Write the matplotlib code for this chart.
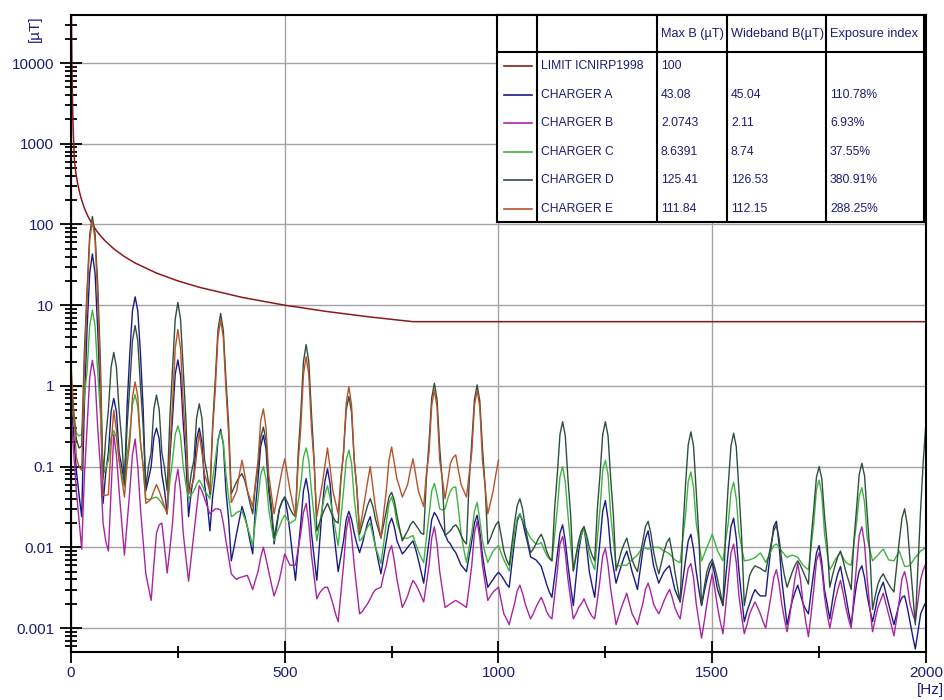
import numpy as np
import matplotlib
matplotlib.use('Agg')
import matplotlib.pyplot as plt
from matplotlib.ticker import FixedLocator, FuncFormatter, LogLocator, NullFormatter, MultipleLocator
from matplotlib.patches import Rectangle

plt.rcParams['font.family'] = ['Liberation Sans', 'DejaVu Sans']

# spectrum bins, 6.25 Hz apart
freq = np.arange(0, 2000.1, 6.25)

# ICNIRP 1998 general public reference level for B [uT]
limit_f = [1, 1.5, 2, 3, 4, 5, 6, 8, 10, 12, 15, 20, 25, 30, 35, 40, 50, 60, 70, 80,
           100, 125, 150, 200, 250, 300, 400, 500, 600, 700, 800, 2000]
limit_b = [40000, 17778, 10000, 4444, 2500, 1600, 1111, 625, 500, 416.7, 333.3, 250, 200,
           166.7, 142.9, 125, 100, 83.33, 71.43, 62.5, 50, 40, 33.33, 25, 20, 16.67, 12.5,
           10, 8.333, 7.143, 6.25, 6.25]

# one row per 100 Hz
charger_a = [
    0.6, 0.25, 0.09, 0.045, 0.024, 0.59, 5, 25, 43.08, 25, 5, 0.69, 0.035, 0.084, 0.15, 0.48,
    0.7, 0.48, 0.15, 0.1, 0.06, 0.56, 2.5, 8.5, 12.7, 8.5, 2.5, 0.52, 0.05, 0.07, 0.1, 0.23,
    0.3, 0.22, 0.08, 0.051, 0.026, 0.13, 0.4, 1.4, 2.1, 1.34, 0.35, 0.12, 0.024, 0.049, 0.08, 0.22,
    0.3, 0.2, 0.06, 0.035, 0.016, 0.042, 0.08, 0.21, 0.29, 0.19, 0.05, 0.022, 0.0068, 0.01, 0.015, 0.022,
    0.032, 0.025, 0.018, 0.012, 0.0083, 0.03, 0.07, 0.18, 0.245, 0.165, 0.05, 0.027, 0.011, 0.018, 0.03, 0.037,
    0.042, 0.027, 0.015, 0.0075, 0.0039, 0.009, 0.02, 0.05, 0.071, 0.045, 0.015, 0.0075, 0.0039, 0.011, 0.03, 0.065,
    0.094, 0.06, 0.02, 0.01, 0.005, 0.0078, 0.012, 0.022, 0.028, 0.022, 0.015, 0.011, 0.0086, 0.011, 0.015, 0.02,
    0.024, 0.016, 0.01, 0.0068, 0.0047, 0.0075, 0.012, 0.019, 0.023, 0.018, 0.012, 0.01, 0.0083, 0.009, 0.01, 0.011,
    0.012, 0.0095, 0.007, 0.005, 0.0036, 0.0065, 0.012, 0.022, 0.027, 0.024, 0.02, 0.017, 0.0145, 0.012, 0.011, 0.0095,
    0.0086, 0.0072, 0.006, 0.0055, 0.005, 0.0078, 0.012, 0.02, 0.025, 0.016, 0.008, 0.0048, 0.0032, 0.0036, 0.004, 0.0045,
    0.0049, 0.0045, 0.004, 0.0035, 0.0032, 0.0062, 0.012, 0.021, 0.026, 0.021, 0.015, 0.011, 0.0076, 0.0073, 0.007, 0.0064,
    0.0058, 0.0045, 0.0035, 0.0028, 0.0024, 0.0043, 0.008, 0.015, 0.019, 0.012, 0.006, 0.0033, 0.0019, 0.0042, 0.009, 0.014,
    0.018, 0.01, 0.005, 0.0034, 0.0024, 0.0055, 0.012, 0.028, 0.038, 0.022, 0.009, 0.0056, 0.0036, 0.0047, 0.006, 0.0075,
    0.009, 0.0068, 0.005, 0.0039, 0.003, 0.0052, 0.009, 0.013, 0.016, 0.01, 0.006, 0.0046, 0.0036, 0.0043, 0.005, 0.0055,
    0.0059, 0.0042, 0.003, 0.0025, 0.0021, 0.0039, 0.007, 0.012, 0.0145, 0.0095, 0.005, 0.003, 0.0019, 0.0028, 0.004, 0.0053,
    0.0065, 0.0045, 0.003, 0.0024, 0.0019, 0.0042, 0.009, 0.018, 0.023, 0.013, 0.005, 0.0024, 0.0012, 0.0016, 0.002, 0.0025,
    0.003, 0.0027, 0.0025, 0.0025, 0.0025, 0.0052, 0.01, 0.018, 0.021, 0.011, 0.004, 0.0021, 0.0011, 0.0016, 0.0022, 0.0028,
    0.0034, 0.0026, 0.002, 0.0017, 0.0015, 0.0028, 0.005, 0.0085, 0.0105, 0.0065, 0.003, 0.002, 0.0013, 0.0022, 0.0035, 0.0047,
    0.0058, 0.0038, 0.0025, 0.0016, 0.0011, 0.002, 0.0035, 0.0051, 0.0059, 0.0042, 0.0025, 0.0017, 0.0012, 0.0017, 0.0025, 0.0031,
    0.0037, 0.0027, 0.002, 0.0015, 0.0011, 0.0015, 0.002, 0.0024, 0.0025, 0.0018, 0.0012, 0.0008, 0.00055, 0.0009, 0.0015, 0.0018,
    0.0021]

charger_b = [
    0.5, 0.15, 0.05, 0.022, 0.0095, 0.075, 0.3, 1.28, 2.0743, 1.28, 0.3, 0.1, 0.02, 0.012, 0.009, 0.05,
    0.25, 0.14, 0.05, 0.02, 0.008, 0.02, 0.05, 0.14, 0.22, 0.1, 0.03, 0.012, 0.0047, 0.0032, 0.0022, 0.006,
    0.015, 0.019, 0.02, 0.01, 0.0048, 0.0095, 0.02, 0.06, 0.093, 0.05, 0.015, 0.0075, 0.0038, 0.0075, 0.015, 0.03,
    0.058, 0.05, 0.04, 0.032, 0.026, 0.028, 0.03, 0.03, 0.029, 0.02, 0.012, 0.0075, 0.0047, 0.0043, 0.004, 0.0042,
    0.0043, 0.0044, 0.0045, 0.0037, 0.003, 0.0039, 0.005, 0.0075, 0.01, 0.0072, 0.005, 0.0035, 0.0025, 0.0031, 0.004, 0.0058,
    0.0083, 0.007, 0.006, 0.006, 0.006, 0.0095, 0.015, 0.027, 0.035, 0.02, 0.008, 0.0043, 0.0023, 0.0027, 0.003, 0.0032,
    0.0032, 0.0026, 0.002, 0.0015, 0.0012, 0.0027, 0.006, 0.016, 0.024, 0.014, 0.006, 0.003, 0.0015, 0.0016, 0.0018, 0.002,
    0.0023, 0.0027, 0.003, 0.0031, 0.0032, 0.0045, 0.006, 0.0088, 0.0105, 0.0068, 0.004, 0.0027, 0.0018, 0.0021, 0.0025, 0.0032,
    0.0039, 0.0035, 0.003, 0.0025, 0.0021, 0.0035, 0.006, 0.013, 0.018, 0.011, 0.005, 0.003, 0.0018, 0.0019, 0.002, 0.0021,
    0.0022, 0.0021, 0.002, 0.0019, 0.0018, 0.0032, 0.006, 0.015, 0.021, 0.013, 0.006, 0.0036, 0.0022, 0.0025, 0.0028, 0.003,
    0.0032, 0.0022, 0.0015, 0.0013, 0.0011, 0.0015, 0.002, 0.0029, 0.0034, 0.0027, 0.002, 0.0016, 0.0013, 0.0015, 0.0018, 0.0021,
    0.0024, 0.002, 0.0016, 0.0014, 0.0013, 0.0025, 0.005, 0.011, 0.0137, 0.0085, 0.004, 0.0023, 0.0013, 0.0015, 0.0018, 0.002,
    0.0023, 0.0019, 0.0016, 0.0014, 0.0013, 0.0022, 0.004, 0.0078, 0.0097, 0.006, 0.003, 0.0018, 0.0011, 0.0014, 0.0018, 0.0022,
    0.0027, 0.002, 0.0015, 0.0013, 0.0011, 0.0015, 0.002, 0.003, 0.0036, 0.0028, 0.002, 0.0017, 0.0015, 0.0018, 0.0022, 0.0026,
    0.003, 0.0024, 0.0018, 0.0015, 0.0013, 0.0022, 0.0035, 0.0055, 0.0063, 0.0042, 0.002, 0.0012, 0.00075, 0.0012, 0.002, 0.0032,
    0.0047, 0.003, 0.0018, 0.0012, 0.00085, 0.0018, 0.004, 0.0085, 0.011, 0.0065, 0.0025, 0.0014, 0.00085, 0.0011, 0.0015, 0.0018,
    0.0021, 0.0018, 0.0015, 0.0012, 0.001, 0.0016, 0.0025, 0.0042, 0.0053, 0.0036, 0.002, 0.0013, 0.0009, 0.0014, 0.0025, 0.0042,
    0.0063, 0.004, 0.002, 0.0012, 0.00078, 0.0015, 0.003, 0.0068, 0.0086, 0.0055, 0.0025, 0.0015, 0.001, 0.0015, 0.0022, 0.003,
    0.0039, 0.0027, 0.0018, 0.0013, 0.001, 0.0025, 0.006, 0.014, 0.018, 0.011, 0.004, 0.0018, 0.0009, 0.0013, 0.0018, 0.0022,
    0.0027, 0.002, 0.0015, 0.0011, 0.0008, 0.0013, 0.0022, 0.0041, 0.005, 0.0035, 0.002, 0.0015, 0.0012, 0.0022, 0.004, 0.0053,
    0.0063]

charger_c = [
    1.2, 0.5, 0.26, 0.24, 0.25, 0.73, 1.5, 5.6, 8.6391, 5.6, 1.5, 0.46, 0.08, 0.095, 0.12, 0.23,
    0.28, 0.23, 0.12, 0.08, 0.056, 0.14, 0.25, 0.59, 0.78, 0.55, 0.2, 0.105, 0.04, 0.039, 0.04, 0.041,
    0.042, 0.039, 0.035, 0.031, 0.027, 0.066, 0.12, 0.25, 0.32, 0.24, 0.1, 0.06, 0.04, 0.045, 0.05, 0.06,
    0.068, 0.06, 0.05, 0.045, 0.04, 0.07, 0.12, 0.22, 0.27, 0.2, 0.08, 0.042, 0.024, 0.025, 0.027, 0.028,
    0.028, 0.023, 0.018, 0.014, 0.0105, 0.021, 0.04, 0.08, 0.1, 0.07, 0.03, 0.018, 0.012, 0.015, 0.018, 0.022,
    0.025, 0.022, 0.02, 0.021, 0.022, 0.036, 0.06, 0.13, 0.17, 0.12, 0.05, 0.024, 0.012, 0.019, 0.03, 0.045,
    0.058, 0.04, 0.025, 0.016, 0.0105, 0.023, 0.05, 0.12, 0.16, 0.11, 0.04, 0.021, 0.012, 0.013, 0.015, 0.018,
    0.02, 0.014, 0.01, 0.008, 0.0063, 0.011, 0.02, 0.035, 0.042, 0.032, 0.02, 0.016, 0.013, 0.013, 0.013, 0.0135,
    0.014, 0.011, 0.009, 0.0075, 0.0065, 0.013, 0.025, 0.05, 0.062, 0.045, 0.03, 0.029, 0.03, 0.04, 0.05, 0.055,
    0.056, 0.03, 0.015, 0.0095, 0.0065, 0.01, 0.015, 0.028, 0.036, 0.022, 0.012, 0.0085, 0.0065, 0.0077, 0.009, 0.0098,
    0.0105, 0.0085, 0.007, 0.006, 0.0051, 0.0085, 0.015, 0.023, 0.026, 0.022, 0.018, 0.015, 0.013, 0.012, 0.011, 0.011,
    0.0115, 0.0095, 0.008, 0.0072, 0.0068, 0.014, 0.03, 0.075, 0.1, 0.065, 0.025, 0.011, 0.0051, 0.0075, 0.011, 0.014,
    0.017, 0.012, 0.008, 0.0064, 0.0053, 0.013, 0.03, 0.09, 0.12, 0.08, 0.025, 0.012, 0.0058, 0.0059, 0.006, 0.006,
    0.006, 0.0065, 0.007, 0.0075, 0.008, 0.009, 0.01, 0.0098, 0.0095, 0.0098, 0.01, 0.01, 0.01, 0.0095, 0.009, 0.0087,
    0.0083, 0.0076, 0.007, 0.0067, 0.0065, 0.013, 0.025, 0.065, 0.086, 0.055, 0.02, 0.012, 0.0068, 0.0082, 0.01, 0.012,
    0.0145, 0.0115, 0.009, 0.0078, 0.0068, 0.012, 0.02, 0.048, 0.064, 0.04, 0.015, 0.01, 0.0068, 0.0069, 0.007, 0.0072,
    0.0075, 0.008, 0.0085, 0.0075, 0.0065, 0.0076, 0.009, 0.0105, 0.011, 0.01, 0.009, 0.0082, 0.0075, 0.0078, 0.008, 0.0078,
    0.0075, 0.0067, 0.006, 0.0056, 0.0053, 0.01, 0.02, 0.052, 0.068, 0.045, 0.015, 0.0085, 0.0053, 0.006, 0.007, 0.0078,
    0.0086, 0.0075, 0.0065, 0.0062, 0.006, 0.011, 0.02, 0.043, 0.055, 0.036, 0.013, 0.0093, 0.0068, 0.0074, 0.008, 0.0088,
    0.0095, 0.0082, 0.007, 0.0069, 0.0068, 0.0078, 0.009, 0.0072, 0.0058, 0.0058, 0.006, 0.0067, 0.0075, 0.0082, 0.009, 0.0095,
    0.01]

charger_d = [
    1.0, 0.4, 0.22, 0.17, 0.18, 2.6, 15, 74, 125.41, 77, 18, 2.0, 0.07, 0.23, 0.5, 1.7,
    2.6, 1.7, 0.5, 0.21, 0.06, 0.32, 1.0, 3.6, 5.6, 3.6, 1.0, 0.32, 0.056, 0.1, 0.15, 0.51,
    0.77, 0.51, 0.15, 0.097, 0.05, 0.4, 1.6, 6.7, 10.8, 6.7, 1.6, 0.39, 0.046, 0.082, 0.12, 0.4,
    0.6, 0.4, 0.12, 0.081, 0.045, 0.32, 1.2, 4.9, 7.9, 4.9, 1.2, 0.33, 0.046, 0.055, 0.065, 0.075,
    0.082, 0.068, 0.05, 0.035, 0.026, 0.058, 0.1, 0.23, 0.31, 0.21, 0.06, 0.033, 0.013, 0.02, 0.03, 0.037,
    0.042, 0.036, 0.03, 0.026, 0.024, 0.14, 0.45, 2.0, 3.24, 2.0, 0.45, 0.12, 0.016, 0.02, 0.025, 0.03,
    0.035, 0.029, 0.024, 0.021, 0.02, 0.067, 0.15, 0.5, 0.74, 0.47, 0.12, 0.052, 0.0145, 0.019, 0.025, 0.033,
    0.04, 0.032, 0.022, 0.017, 0.013, 0.019, 0.028, 0.042, 0.048, 0.038, 0.025, 0.017, 0.012, 0.014, 0.016, 0.019,
    0.021, 0.019, 0.017, 0.015, 0.0145, 0.07, 0.2, 0.71, 1.08, 0.68, 0.17, 0.063, 0.014, 0.015, 0.016, 0.018,
    0.019, 0.017, 0.014, 0.012, 0.011, 0.063, 0.2, 0.68, 1.03, 0.65, 0.17, 0.057, 0.011, 0.013, 0.016, 0.019,
    0.021, 0.014, 0.009, 0.007, 0.006, 0.011, 0.02, 0.033, 0.04, 0.03, 0.018, 0.012, 0.0086, 0.0095, 0.011, 0.013,
    0.0145, 0.012, 0.009, 0.0075, 0.0068, 0.03, 0.08, 0.25, 0.36, 0.24, 0.07, 0.025, 0.0051, 0.008, 0.012, 0.016,
    0.018, 0.014, 0.01, 0.008, 0.0068, 0.03, 0.08, 0.25, 0.36, 0.24, 0.07, 0.025, 0.0051, 0.0068, 0.009, 0.011,
    0.013, 0.0095, 0.007, 0.0058, 0.005, 0.0078, 0.012, 0.018, 0.021, 0.015, 0.009, 0.0062, 0.0047, 0.0065, 0.009, 0.0115,
    0.013, 0.0085, 0.005, 0.0032, 0.0021, 0.016, 0.06, 0.185, 0.27, 0.18, 0.05, 0.0135, 0.0019, 0.0032, 0.005, 0.0063,
    0.0071, 0.0055, 0.004, 0.0028, 0.0019, 0.016, 0.06, 0.18, 0.26, 0.175, 0.05, 0.0135, 0.0019, 0.003, 0.0045, 0.0053,
    0.0059, 0.0057, 0.0055, 0.0052, 0.005, 0.0075, 0.011, 0.016, 0.019, 0.013, 0.007, 0.0045, 0.0032, 0.004, 0.005, 0.006,
    0.0068, 0.006, 0.005, 0.0042, 0.0035, 0.0127, 0.03, 0.074, 0.1, 0.071, 0.025, 0.011, 0.0032, 0.0045, 0.006, 0.0077,
    0.009, 0.0068, 0.005, 0.0039, 0.003, 0.012, 0.03, 0.08, 0.11, 0.077, 0.025, 0.0085, 0.0017, 0.0025, 0.0035, 0.0042,
    0.0047, 0.004, 0.0035, 0.0031, 0.0028, 0.0058, 0.012, 0.023, 0.03, 0.019, 0.007, 0.0028, 0.0011, 0.006, 0.03, 0.12,
    0.36]

# charger E was only measured up to 1 kHz
charger_e = [
    1.8, 0.5, 0.13, 0.1, 0.09, 1.7, 12, 64, 111.84, 64, 12, 1.27, 0.044, 0.044, 0.045, 0.18,
    0.5, 0.28, 0.12, 0.07, 0.042, 0.107, 0.2, 0.73, 1.12, 0.73, 0.2, 0.1, 0.035, 0.037, 0.04, 0.05,
    0.06, 0.05, 0.04, 0.032, 0.026, 0.17, 0.6, 2.9, 5.0, 2.9, 0.6, 0.21, 0.046, 0.056, 0.07, 0.14,
    0.26, 0.15, 0.08, 0.063, 0.05, 0.28, 0.9, 4.0, 6.6, 4.0, 0.9, 0.25, 0.036, 0.042, 0.05, 0.08,
    0.12, 0.08, 0.05, 0.04, 0.032, 0.062, 0.12, 0.37, 0.52, 0.3, 0.08, 0.046, 0.026, 0.04, 0.06, 0.09,
    0.125, 0.08, 0.05, 0.035, 0.024, 0.11, 0.3, 1.38, 2.3, 1.38, 0.3, 0.11, 0.024, 0.038, 0.06, 0.1,
    0.17, 0.095, 0.05, 0.036, 0.026, 0.074, 0.15, 0.61, 0.98, 0.58, 0.12, 0.054, 0.016, 0.025, 0.04, 0.065,
    0.1, 0.055, 0.03, 0.02, 0.013, 0.026, 0.05, 0.12, 0.175, 0.11, 0.07, 0.055, 0.042, 0.05, 0.06, 0.09,
    0.125, 0.08, 0.05, 0.04, 0.032, 0.081, 0.15, 0.57, 0.89, 0.54, 0.12, 0.07, 0.04, 0.065, 0.11, 0.13,
    0.14, 0.09, 0.06, 0.05, 0.042, 0.08, 0.15, 0.57, 0.89, 0.54, 0.12, 0.055, 0.026, 0.036, 0.05, 0.08,
    0.12]

names = ['LIMIT ICNIRP1998', 'CHARGER A', 'CHARGER B', 'CHARGER C', 'CHARGER D', 'CHARGER E']
max_b = ['100', '43.08', '2.0743', '8.6391', '125.41', '111.84']
wideband_b = ['', '45.04', '2.11', '8.74', '126.53', '112.15']
exposure = ['', '110.78%', '6.93%', '37.55%', '380.91%', '288.25%']
headers = ['Max B (\u00b5T)', 'Wideband B(\u00b5T)', 'Exposure index']

colors = ['#8b1a1a', '#1a1a85', '#a8259f', '#3fb33f', '#2f4f3c', '#b5532a']
txt_color = '#1c1c78'

fig = plt.figure(figsize=(9.45, 7.0), dpi=100)
ax = fig.add_axes([71 / 945, 48 / 700, 855 / 945, 637 / 700])

ax.plot(limit_f, limit_b, color=colors[0], lw=1.1, zorder=3)
series = [charger_a, charger_b, charger_c, charger_d]
for vals, c in zip(series, colors[1:5]):
    ax.plot(freq, vals, color=c, lw=1.0, zorder=3)
ax.plot(freq[:len(charger_e)], charger_e, color=colors[5], lw=1.0, zorder=3)

ax.set_yscale('log')
ax.set_xlim(0, 2000)
ax.set_ylim(5.05e-4, 3.94e4)
ax.yaxis.set_major_locator(FixedLocator([1e-3, 1e-2, 1e-1, 1, 10, 100, 1000, 10000]))
ax.yaxis.set_major_formatter(FuncFormatter(lambda v, p: '%g' % v))
ax.yaxis.set_minor_locator(LogLocator(base=10, subs=range(2, 10), numticks=30))
ax.yaxis.set_minor_formatter(NullFormatter())
ax.xaxis.set_major_locator(MultipleLocator(500))
ax.xaxis.set_minor_locator(MultipleLocator(250))

ax.grid(which='major', color='#a3a3a3', lw=1.0, zorder=1)
ax.tick_params(which='major', direction='inout', length=16, width=1.3,
               colors='black', labelcolor=txt_color, labelsize=11)
ax.tick_params(which='minor', direction='inout', length=9, width=1.3)
ax.tick_params(axis='x', which='major', pad=2)
ax.tick_params(axis='y', which='major', pad=4)
for s in ax.spines.values():
    s.set_linewidth(1.5)
    s.set_zorder(4)

fig.text(35 / 945, 1 - 29 / 700, '[\u00b5T]', rotation=90, ha='center', va='center',
         color=txt_color, fontsize=11)
fig.text(944 / 945, 1 - 690 / 700, '[Hz]', ha='right', va='center',
         color=txt_color, fontsize=11)

# summary table in the upper right corner
tw, th = 427, 207
tab = fig.add_axes([497 / 945, 1 - 222 / 700, tw / 945, th / 700], zorder=5)
tab.set_xlim(0, tw)
tab.set_ylim(th, 0)
tab.set_facecolor('white')
tab.set_xticks([])
tab.set_yticks([])
for s in tab.spines.values():
    s.set_linewidth(1.5)

col_x = [40, 160, 230, 329]
for cx in col_x:
    tab.plot([cx, cx], [0, th], color='black', lw=1.5)
tab.plot([0, tw], [37, 37], color='black', lw=1.5)

head_y = 18.5
head_x = [164, 234, 333]
clip_w = [66, 99, 94]
for hx, hw, h in zip(head_x, clip_w, headers):
    t = tab.text(hx, head_y, h, ha='left', va='center', color=txt_color, fontsize=9.2)
    t.set_clip_path(Rectangle((hx - 4, 0), hw, 37, transform=tab.transData))

for i, name in enumerate(names):
    y = 51.25 + 28.5 * i
    tab.plot([7, 35], [y, y], color=colors[i], lw=1.2)
    tab.text(44, y, name, ha='left', va='center', color=txt_color, fontsize=8.7)
    tab.text(164, y, max_b[i], ha='left', va='center', color=txt_color, fontsize=8.7)
    tab.text(234, y, wideband_b[i], ha='left', va='center', color=txt_color, fontsize=8.7)
    tab.text(333, y, exposure[i], ha='left', va='center', color=txt_color, fontsize=8.7)

fig.savefig('out.png', dpi=100)
